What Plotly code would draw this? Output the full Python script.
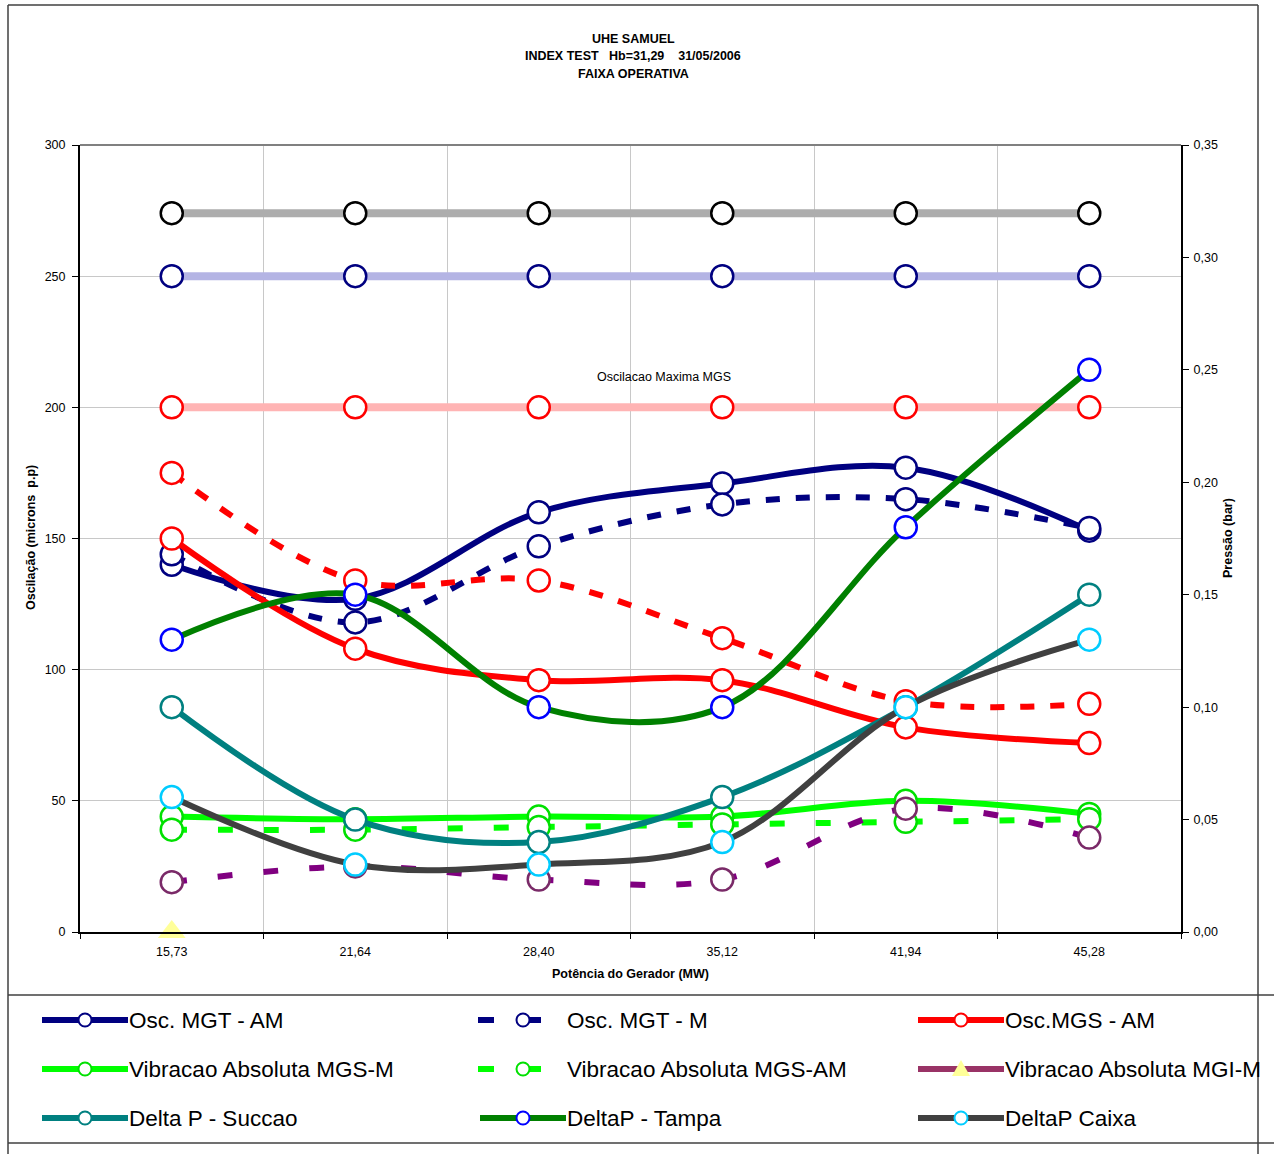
import plotly.graph_objects as go

# ---- data -------------------------------------------------------------
categories = ["15,73", "21,64", "28,40", "35,12", "41,94", "45,28"]

# oscillation / vibration (microns p.p, left axis)
osc_mgt_am = [140, 127, 160, 171, 177, 153]
osc_mgt_m = [144, 118, 147, 163, 165, 154]
osc_mgs_am = [150, 108, 96, 96, 78, 72]
osc_mgs_m = [175, 134, 134, 112, 88, 87]
vib_mgs_m = [44, 43, 44, 44, 50, 45]
vib_mgs_am = [39, 39, 40, 41, 42, 43]
vib_mgi_m = [0, None, None, None, None, None]
vib_mgi_am = [19, 25, 20, 20, 47, 36]

# limit lines (left axis)
limite_grafite = [274, 274, 274, 274, 274, 274]
limite_mgt = [250, 250, 250, 250, 250, 250]
limite_mgs = [200, 200, 200, 200, 200, 200]

# pressure differences (bar, right axis)
dp_succao = [0.10, 0.05, 0.04, 0.06, 0.10, 0.15]
dp_tampa = [0.13, 0.15, 0.10, 0.10, 0.18, 0.25]
dp_caixa = [0.06, 0.03, 0.03, 0.04, 0.10, 0.13]

FONT = "Liberation Sans, Arial, sans-serif"

# plot area in pixels
PL, PR, PT, PB = 80, 1181, 145, 932
W, H = 1274, 1154


def pxx(x):
    return (x - PL) / (PR - PL)


def pxy(y):
    return (PB - y) / (PB - PT)


fig = go.Figure()

MS = 22  # marker diameter


def add_series(y, line_color, mk_line, dash=None, axis="y", width=6,
               symbol="circle", mk_fill="white", mk_size=MS, mk_lw=2.5,
               clip=True, shape="spline"):
    fig.add_trace(go.Scatter(
        x=categories, y=y, yaxis=axis, mode="lines+markers",
        line=dict(color=line_color, width=width, dash=dash, shape=shape,
                  smoothing=1.0),
        marker=dict(symbol=symbol, size=mk_size, color=mk_fill,
                    line=dict(color=mk_line, width=mk_lw)),
        cliponaxis=clip, showlegend=False, hoverinfo="x+y"))


# horizontal limit bands
add_series(limite_grafite, "#ADADAD", "#000000", width=8, shape="linear")
add_series(limite_mgt, "#B4B4E4", "#000080", width=8, shape="linear")
add_series(limite_mgs, "#FFB4B4", "#FF0000", width=8, shape="linear")

# left-axis series
add_series(osc_mgt_am, "#000080", "#000080")
add_series(osc_mgt_m, "#000080", "#000080", dash="14px,16px")
add_series(osc_mgs_am, "#FF0000", "#FF0000")
add_series(osc_mgs_m, "#FF0000", "#FF0000", dash="14px,16px")
add_series(vib_mgs_m, "#00FF00", "#00E000")
add_series(vib_mgs_am, "#00FF00", "#00E000", dash="15px,31px")
add_series(vib_mgi_am, "#800080", "#7A2A68", dash="15px,31px")
add_series(vib_mgi_m, "#993366", "#FFFF99", symbol="triangle-up",
           mk_fill="#FFFF99", mk_size=24, mk_lw=0, clip=False)

# right-axis series
add_series(dp_succao, "#008080", "#008080", axis="y2")
add_series(dp_tampa, "#008000", "#0000FF", axis="y2")
add_series(dp_caixa, "#404040", "#00CCFF", axis="y2")

shapes = []
annotations = []

# plot area top border
shapes.append(dict(type="line", xref="paper", yref="paper", x0=0, x1=1,
                   y0=1, y1=1, line=dict(color="#808080", width=2)))

# outer frame and legend box
frame = dict(color="#404040", width=1.5)
shapes.append(dict(type="line", xref="paper", yref="paper", x0=pxx(8), x1=pxx(8),
                   y0=pxy(5), y1=pxy(1160), line=frame))
shapes.append(dict(type="line", xref="paper", yref="paper", x0=pxx(1258), x1=pxx(1258),
                   y0=pxy(5), y1=pxy(1160), line=frame))
shapes.append(dict(type="line", xref="paper", yref="paper", x0=pxx(8), x1=pxx(1258),
                   y0=pxy(5), y1=pxy(5), line=frame))
for yy in (995, 1143):
    shapes.append(dict(type="line", xref="paper", yref="paper", x0=pxx(8),
                       x1=pxx(1280), y0=pxy(yy), y1=pxy(yy), line=frame))

# legend entries: (label, line colour, marker colour, dashed, symbol, column, row)
legend_items = [
    ("Osc. MGT - AM", "#000080", "#000080", False, "circle", 0, 0),
    ("Osc. MGT - M", "#000080", "#000080", True, "circle", 1, 0),
    ("Osc.MGS - AM", "#FF0000", "#FF0000", False, "circle", 2, 0),
    ("Vibracao Absoluta MGS-M", "#00FF00", "#00E000", False, "circle", 0, 1),
    ("Vibracao Absoluta MGS-AM", "#00FF00", "#00E000", True, "circle", 1, 1),
    ("Vibracao Absoluta MGI-M", "#993366", "#FFFF99", False, "triangle", 2, 1),
    ("Delta P - Succao", "#008080", "#008080", False, "circle", 0, 2),
    ("DeltaP - Tampa", "#008000", "#0000FF", False, "circle", 1, 2),
    ("DeltaP Caixa", "#404040", "#00CCFF", False, "circle", 2, 2),
]
col_x = [42, 480, 918]
row_y = [1020, 1069, 1118]
for label, lc, mc, dashed, sym, c, r in legend_items:
    x0 = col_x[c]
    yy = row_y[r]
    cx = x0 + 43
    if dashed:
        segs = [(x0 - 2, x0 + 14), (cx + 1, cx + 18)]
    else:
        segs = [(x0, x0 + 86)]
    for a, b in segs:
        shapes.append(dict(type="line", xref="paper", yref="paper",
                           x0=pxx(a), x1=pxx(b), y0=pxy(yy), y1=pxy(yy),
                           line=dict(color=lc, width=6)))
    if sym == "circle":
        rr = 6.5
        shapes.append(dict(type="circle", xref="paper", yref="paper",
                           x0=pxx(cx - rr), x1=pxx(cx + rr),
                           y0=pxy(yy + rr), y1=pxy(yy - rr),
                           fillcolor="white", line=dict(color=mc, width=2)))
    else:
        path = "M {},{} L {},{} L {},{} Z".format(
            pxx(cx), pxy(yy - 9), pxx(cx - 9), pxy(yy + 7), pxx(cx + 9), pxy(yy + 7))
        shapes.append(dict(type="path", xref="paper", yref="paper", path=path,
                           fillcolor=mc, line=dict(width=0)))
    annotations.append(dict(xref="paper", yref="paper", x=pxx(x0 + 85), y=pxy(yy),
                            text=label, showarrow=False, xanchor="left",
                            yanchor="middle",
                            font=dict(family=FONT, size=22.5, color="black")))

# title block
nb = "\u00a0"
title_lines = [
    ("UHE SAMUEL", 39),
    ("INDEX TEST" + nb * 3 + "Hb=31,29" + nb * 4 + "31/05/2006", 56),
    ("FAIXA OPERATIVA", 74),
]
for txt, yy in title_lines:
    annotations.append(dict(xref="paper", yref="paper", x=pxx(633), y=pxy(yy),
                            text="<b>" + txt + "</b>", showarrow=False,
                            xanchor="center", yanchor="middle",
                            font=dict(family=FONT, size=12.5, color="black")))

# axis titles
annotations.append(dict(xref="paper", yref="paper", x=pxx(630), y=pxy(974),
                        text="<b>Potência do Gerador (MW)</b>", showarrow=False,
                        xanchor="center", yanchor="middle",
                        font=dict(family=FONT, size=12.5, color="black")))
annotations.append(dict(xref="paper", yref="paper", x=pxx(31), y=pxy(538),
                        text="<b>Oscilação (microns" + nb + " p.p)</b>", showarrow=False,
                        textangle=-90, xanchor="center", yanchor="middle",
                        font=dict(family=FONT, size=12.5, color="black")))
annotations.append(dict(xref="paper", yref="paper", x=pxx(1228), y=pxy(538),
                        text="<b>Pressão (bar)</b>", showarrow=False,
                        textangle=-90, xanchor="center", yanchor="middle",
                        font=dict(family=FONT, size=12.5, color="black")))

# limit label
annotations.append(dict(xref="paper", yref="paper", x=pxx(664), y=pxy(377),
                        text="Oscilacao Maxima MGS", showarrow=False,
                        xanchor="center", yanchor="middle",
                        font=dict(family=FONT, size=12.5, color="black")))

tickfont = dict(family=FONT, size=12.5, color="black")

fig.update_layout(
    width=W, height=H,
    margin=dict(l=PL, r=W - PR, t=PT, b=H - PB, autoexpand=False),
    paper_bgcolor="white", plot_bgcolor="white",
    separators=",.",
    font=dict(family=FONT, size=12, color="black"),
    showlegend=False,
    xaxis=dict(type="category", range=[-0.5, 5.5], tickson="boundaries",
               ticks="outside", ticklen=5, tickcolor="black", tickwidth=1,
               ticklabelstandoff=7,
               showgrid=True, gridcolor="#C8C8C8", gridwidth=1,
               showline=True, linecolor="black", linewidth=2,
               tickfont=tickfont),
    yaxis=dict(range=[0, 300], dtick=50, ticks="outside", ticklen=6,
               tickcolor="black", showgrid=True, gridcolor="#C8C8C8",
               ticklabelstandoff=4,
               showline=True, linecolor="black", linewidth=2, zeroline=False,
               tickfont=tickfont),
    yaxis2=dict(range=[0, 0.35], dtick=0.05, tickformat=".2f", overlaying="y",
                side="right", ticks="outside", ticklen=6, tickcolor="black",
                ticklabelstandoff=2,
                showgrid=False, showline=True, linecolor="black", linewidth=2,
                zeroline=False, tickfont=tickfont),
    shapes=shapes,
    annotations=annotations,
)

fig.write_html("out.html")
